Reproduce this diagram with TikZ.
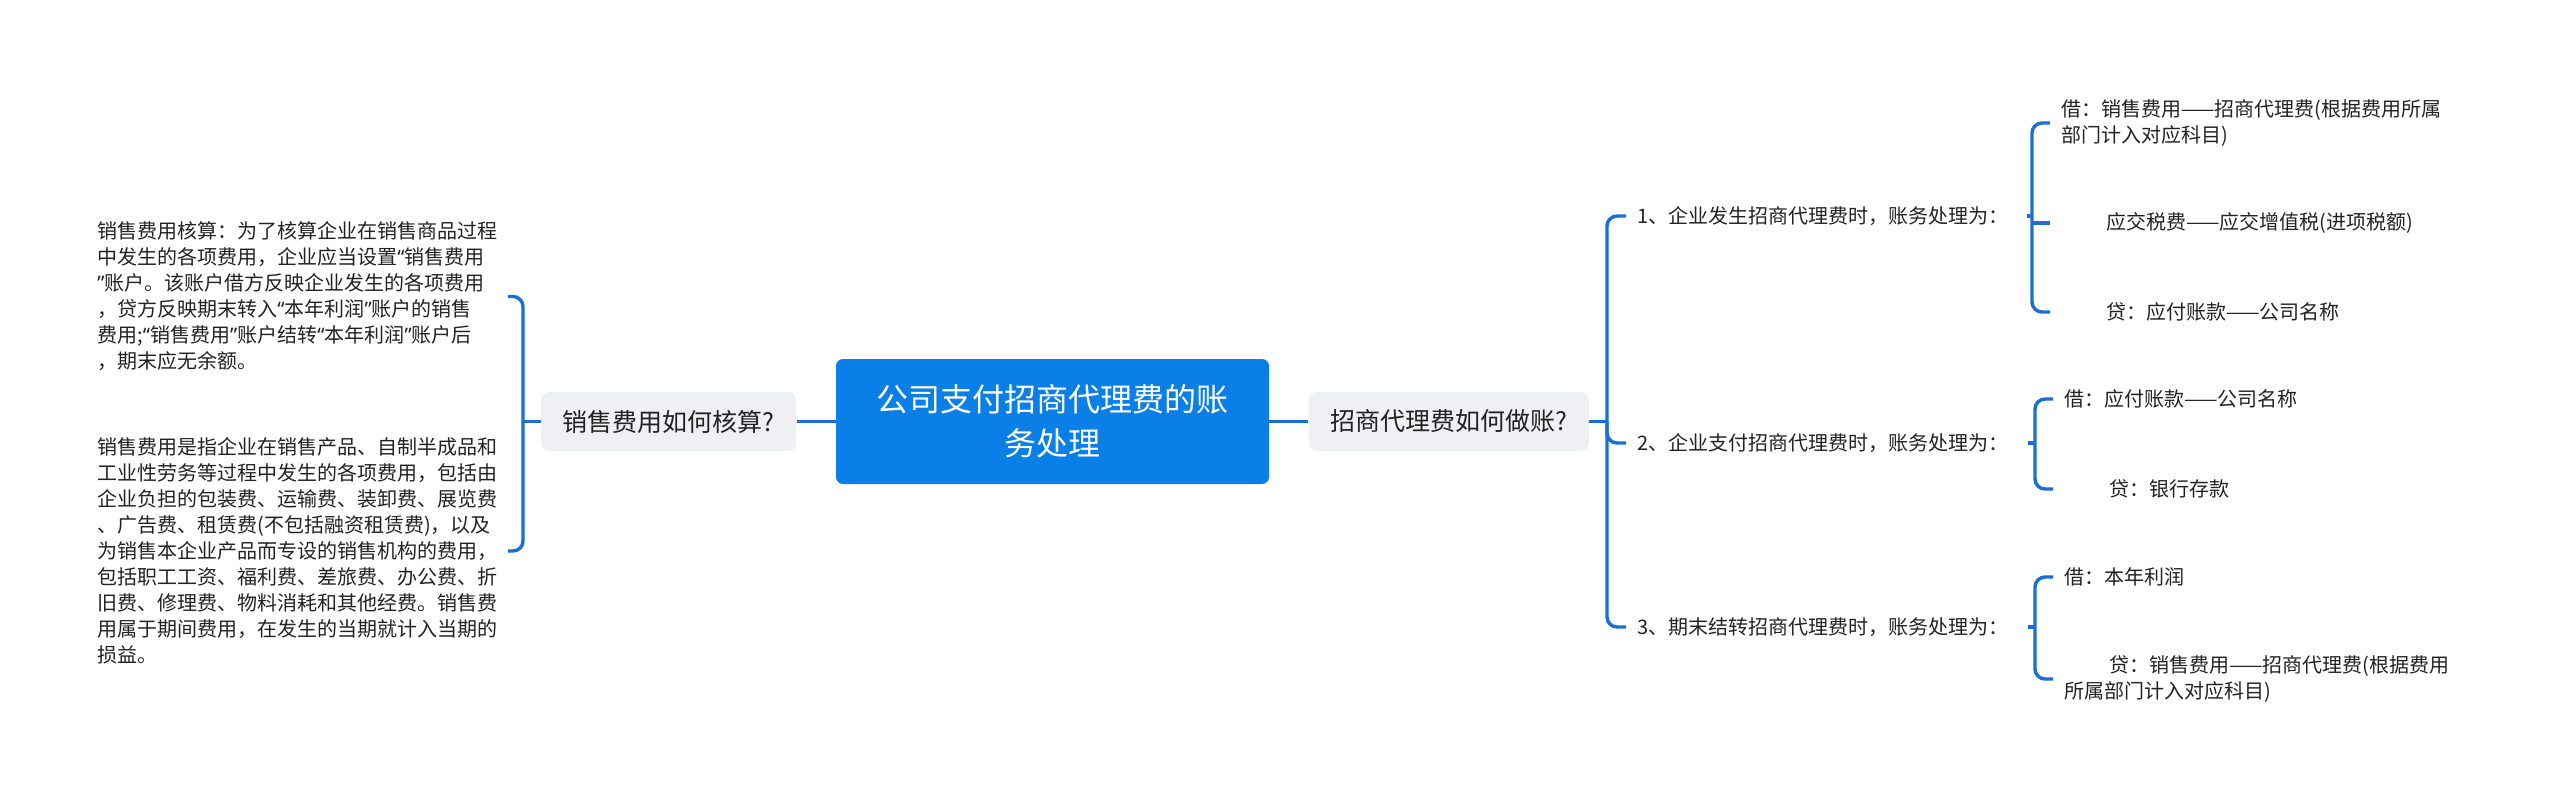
\documentclass[tikz,border=0pt]{standalone}
\usepackage{fontspec}
\setmainfont{Noto Sans CJK SC}
\newfontfamily\latinfont{Noto Sans}
\usetikzlibrary{positioning,calc}
\definecolor{topicblue}{HTML}{0A7FE8}
\definecolor{linkblue}{HTML}{1A6FD4}
\definecolor{branchbg}{HTML}{EEF0F3}
\definecolor{inkgrey}{HTML}{222222}
\tikzset{
  topic/.style={
    fill=topicblue, text=white, rounded corners=3.5pt, align=center,
    minimum width=216.5pt, minimum height=62.5pt,
    font=\fontsize{16pt}{22pt}\selectfont,
  },
  branch/.style={fill=branchbg, text=inkgrey, rounded corners=4pt,
                 minimum height=29.5pt, font=\fontsize{12.5pt}{15pt}\selectfont},
  entry/.style ={anchor=west, text=inkgrey, inner xsep=5.5pt, inner ysep=2pt,
                 font=\fontsize{10pt}{13pt}\selectfont},
  leaf/.style  ={entry, align=left},
  note/.style  ={leaf, text width=205pt, inner xsep=0pt},
  link/.style  ={draw=linkblue, line width=1.7pt, rounded corners=5pt},
}
% indent used by the credit lines
\newcommand{\crind}{\hspace*{22.5pt}}
% narrow (latin) quote marks, the CJK ones are full width
\newcommand{\qopen}{{\latinfont “}}
\newcommand{\qclose}{{\latinfont ”}}

\begin{document}
\begin{tikzpicture}[x=0.5pt, y=-0.5pt]
\useasboundingbox (0,0) rectangle (2560,799);

% ---------------------------------------------------------------- centre
\node[topic] (root) at (1052.5,421.5) {公司支付招商代理费的账\\务处理};
\node[branch, left=19.5pt of root, minimum width=127.5pt] (lsub) {销售费用如何核算?};
\node[branch, right=19.5pt of root, minimum width=140pt] (rsub) {招商代理费如何做账?};

\draw[link] (lsub) -- (root);
\draw[link] (root) -- (rsub);

% ---------------------------------------------------------------- left notes
\node[note] (na) at (97,296.5)
  {销售费用核算：为了核算企业在销售商品过程\\
   中发生的各项费用，企业应当设置\qopen 销售费用\\
   \qclose 账户。该账户借方反映企业发生的各项费用\\
   ，贷方反映期末转入\qopen 本年利润\qclose 账户的销售\\
   费用;\qopen 销售费用\qclose 账户结转\qopen 本年利润\qclose 账户后\\
   ，期末应无余额。};
\node[note] (nb) at (97,551)
  {销售费用是指企业在销售产品、自制半成品和\\
   工业性劳务等过程中发生的各项费用，包括由\\
   企业负担的包装费、运输费、装卸费、展览费\\
   、广告费、租赁费(不包括融资租赁费)，以及\\
   为销售本企业产品而专设的销售机构的费用，\\
   包括职工工资、福利费、差旅费、办公费、折\\
   旧费、修理费、物料消耗和其他经费。销售费\\
   用属于期间费用，在发生的当期就计入当期的\\
   损益。};

\coordinate (lspine) at (523,421.5);
\draw[link] (lsub.west) -- (lspine);
\draw[link] (na.east) -| (lspine) |- (nb.east);

% ---------------------------------------------------------------- right steps
\node[entry] (e1) at (1626,216) {1、企业发生招商代理费时，账务处理为：};
\node[entry] (e2) at (1626,443) {2、企业支付招商代理费时，账务处理为：};
\node[entry] (e3) at (1626,627) {3、期末结转招商代理费时，账务处理为：};

\coordinate (rspine) at (1607,421.5);
\draw[link] (rsub.east) -- (rspine);
\draw[link] (e1.west) -| (rspine) |- (e3.west);
\draw[link] (rspine) |- (e2.west);

% ---------------------------------------------------------------- entries
\node[leaf] (l1a) at (2050,123) {借：销售费用——招商代理费(根据费用所属\\部门计入对应科目)};
\node[leaf] (l1b) at (2050,223) {\crind 应交税费——应交增值税(进项税额)};
\node[leaf] (l1c) at (2050,312) {\crind 贷：应付账款——公司名称};

\node[leaf] (l2a) at (2053,399) {借：应付账款——公司名称};
\node[leaf] (l2b) at (2053,489) {\crind 贷：银行存款};

\node[leaf] (l3a) at (2053,577) {借：本年利润};
\node[leaf] (l3b) at (2053,679) {\crind 贷：销售费用——招商代理费(根据费用\\所属部门计入对应科目)};

\coordinate (s1) at (2032,216);
\coordinate (s2) at (2035,443);
\coordinate (s3) at (2035,627);

\draw[link] ([xshift=3.5pt]e1.east) -- (s1);
\draw[link] (l1a.west) -| (s1) |- (l1c.west);
\draw[link] (s1 |- l1b.west) -- (l1b.west);

\draw[link] ([xshift=4pt]e2.east) -- (s2);
\draw[link] (l2a.west) -| (s2) |- (l2b.west);

\draw[link] ([xshift=4pt]e3.east) -- (s3);
\draw[link] (l3a.west) -| (s3) |- (l3b.west);

\end{tikzpicture}
\end{document}
